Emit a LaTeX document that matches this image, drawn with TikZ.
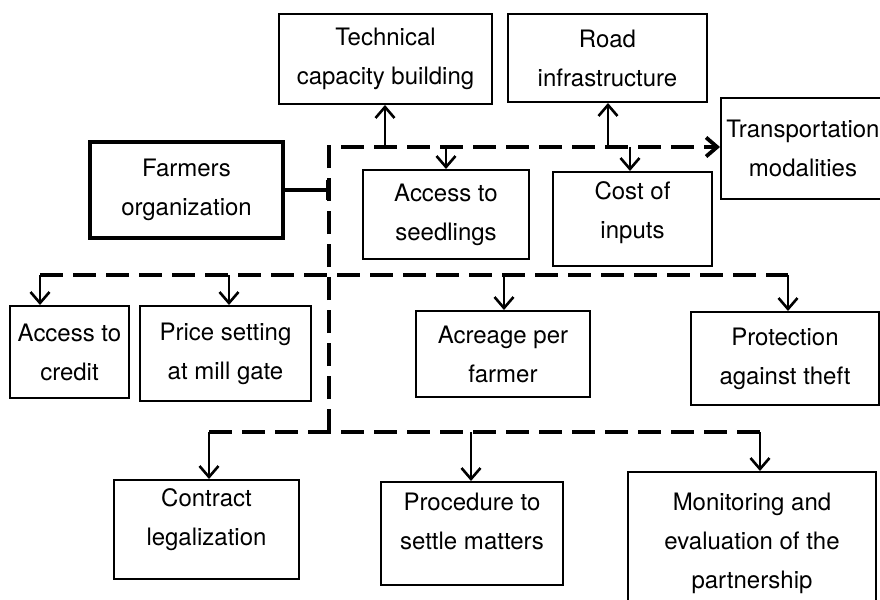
\documentclass[tikz,border=0pt]{standalone}
\usepackage{fontspec}
\setmainfont{TeX Gyre Heros}
\usetikzlibrary{arrows,arrows.meta}

\begin{document}
\begin{tikzpicture}[x=0.5pt,y=-0.5pt,>={Straight Barb[length=5.5pt,width=9.5pt]},
                    line width=1.3pt,
                    main node/.style={rectangle,draw,line width=1pt,inner sep=0pt,align=center,
                                      font=\fontsize{12}{19.5}\selectfont},
                    dash line/.style={dash pattern=on 11.5pt off 5pt,line width=1.9pt}]
  \useasboundingbox (0,0) rectangle (880,600);
  \node[main node,line width=2.2pt,minimum width=96.5pt,minimum height=48pt] (1) at (186.5,190) {Farmers\\organization};
  \node[main node,minimum width=106.5pt,minimum height=45pt] (2) at (385.5,59) {Technical\\capacity building};
  \node[main node,minimum width=99.5pt,minimum height=44pt] (3) at (607.5,58) {Road\\infrastructure};
  \node[main node,minimum width=82pt,minimum height=50.5pt] (4) at (803,148.5) {Transportation\\modalities};
  \node[main node,minimum width=83pt,minimum height=44.5pt] (5) at (446,214.5) {Access to\\seedlings};
  \node[main node,minimum width=79.5pt,minimum height=47pt] (6) at (632.5,219) {Cost of\\inputs\\[-10.4pt]\mbox{}};
  \node[main node,minimum width=59.5pt,minimum height=46pt] (7) at (69.5,352) {Access to\\credit};
  \node[main node,minimum width=85.5pt,minimum height=47.5pt] (8) at (225.5,353.5) {Price setting\\at mill gate};
  \node[main node,minimum width=87pt,minimum height=43pt] (9) at (503,354) {Acreage per\\farmer};
  \node[main node,minimum width=94pt,minimum height=46.5pt] (10) at (785,358.5) {Protection\\against theft};
  \node[main node,minimum width=92.5pt,minimum height=49.5pt] (11) at (206.5,529.5) {Contract\\legalization\\[-7.4pt]\mbox{}};
  \node[main node,minimum width=91pt,minimum height=51.5pt] (12) at (472,533.5) {Procedure to\\settle matters\\[-7pt]\mbox{}};
  \node[main node,minimum width=124pt,minimum height=71pt] (13) at (752,543) {Monitoring and\\evaluation of the\\partnership};

  \coordinate (b) at (329,190);
  \coordinate (j1) at (329,147);
  \coordinate (j2) at (329,432);
  \coordinate (t1) at (385,147);
  \coordinate (t2) at (446,147);
  \coordinate (t3) at (608,147);
  \coordinate (t4) at (630,147);
  \coordinate (m1) at (40,275);
  \coordinate (m2) at (229,275);
  \coordinate (m3) at (504,275);
  \coordinate (m4) at (788,275);
  \coordinate (l1) at (209,432);
  \coordinate (l2) at (471,432);
  \coordinate (l3) at (760,432);

  \draw[line width=1.7pt,-{Bar[width=10pt]}] (1) -- (b);
  \draw[dash line,->] (j2) -- (j1) -- (4.west |- j1);
  \draw[dash line] (m1) -- (m4);
  \draw[dash line] (l1) -- (l3);
  \path[->]
    (t1) edge (t1 |- 2.south)
    (t2) edge (t2 |- 5.north)
    (t3) edge (t3 |- 3.south)
    (t4) edge (t4 |- 6.north)
    (m1) edge (m1 |- 7.north)
    (m2) edge (m2 |- 8.north)
    (m3) edge (m3 |- 9.north)
    (m4) edge (m4 |- 10.north)
    (l1) edge (l1 |- 11.north)
    (l2) edge (l2 |- 12.north)
    (l3) edge (l3 |- 13.north);
\end{tikzpicture}
\end{document}
